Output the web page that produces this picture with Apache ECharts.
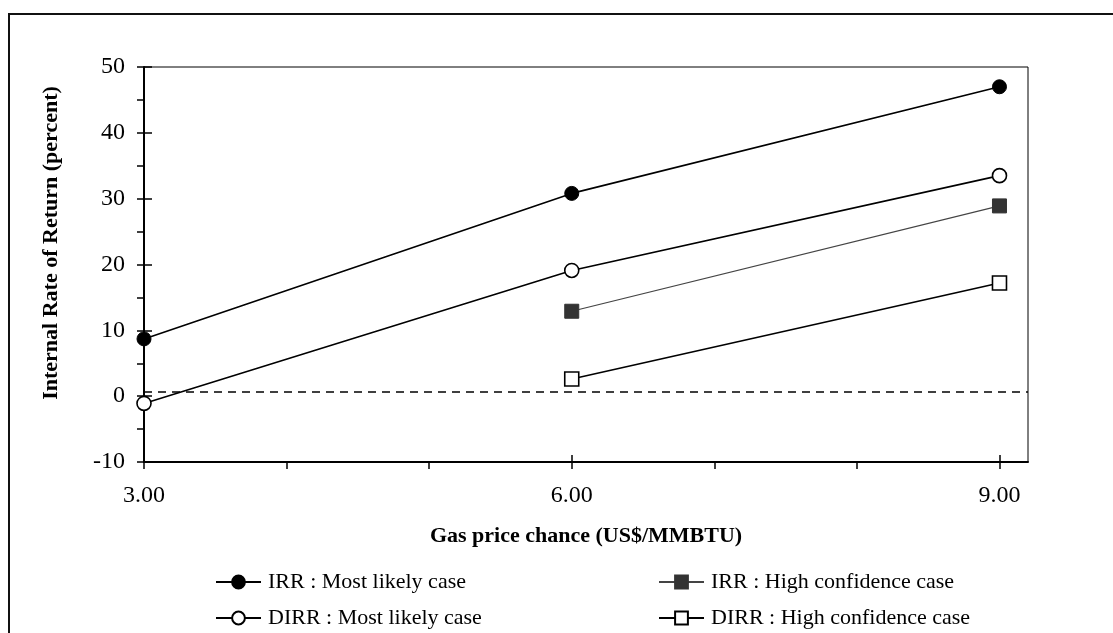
<!DOCTYPE html>
<html>
<head>
<meta charset="utf-8">
<script src="https://cdn.jsdelivr.net/npm/echarts@6/dist/echarts.min.js"></script>
<style>
  html, body { margin: 0; padding: 0; background: #fff; }
  #chart { width: 1113px; height: 633px; }
</style>
</head>
<body>
<div id="chart"></div>
<script>
// Gas price scenarios (US$/MMBTU)
const gasPrice = [3, 6, 9];
const highConfPrice = [6, 9];

// Internal rate of return (percent)
const irrMostLikely = [8.7, 30.8, 47.0];
const dirrMostLikely = [-1.1, 19.1, 33.5];
const irrHighConfidence = [12.9, 28.9];
const dirrHighConfidence = [2.6, 17.2];

// Dashed reference level
const referenceLevel = 0.6;

// Axis ticks and labels
const xTicks = [3, 4, 5, 6, 7, 8, 9];
const xLabels = [3, 6, 9];
const yTicks = [-10, -5, 0, 5, 10, 15, 20, 25, 30, 35, 40, 45, 50];
const yLabels = [-10, 0, 10, 20, 30, 40, 50];

const seriesNames = [
  'IRR : Most likely case',
  'DIRR : Most likely case',
  'IRR : High confidence case',
  'DIRR : High confidence case'
];

const FONT = '"Liberation Serif", "Times New Roman", serif';

function pairs(xs, ys) {
  return xs.map((x, i) => [x, ys[i]]);
}

// one legend entry per slot: two columns, two rows
function legendEntry(name, left, top) {
  return {
    left: left, top: top, padding: 0,
    itemWidth: 45, itemHeight: 16, itemGap: 0,
    textStyle: { fontFamily: FONT, fontSize: 22, color: '#000', padding: [0, 0, 0, 2] },
    data: [name]
  };
}

const chart = echarts.init(document.getElementById('chart'), null, { renderer: 'canvas' });

const hiddenAxisParts = {
  axisLine: { show: false },
  axisLabel: { show: false },
  splitLine: { show: false }
};

chart.setOption({
  backgroundColor: '#fff',
  animation: false,
  grid: {
    left: 144, top: 67, right: 85, bottom: 171,
    show: true, borderColor: '#000', borderWidth: 1, backgroundColor: 'transparent'
  },
  graphic: [
    {
      type: 'rect', silent: true, z: -1,
      shape: { x: 9, y: 14, width: 1120, height: 660 },
      style: { fill: 'none', stroke: '#111', lineWidth: 2 }
    },
    {
      type: 'text', x: 51, y: 243, rotation: Math.PI / 2,
      style: {
        text: 'Internal Rate of Return (percent)',
        font: 'bold 22px ' + FONT, fill: '#000',
        textAlign: 'center', textVerticalAlign: 'middle'
      }
    }
  ],
  xAxis: [
    {
      type: 'value', min: 3, max: 9.2, position: 'bottom',
      name: 'Gas price chance (US$/MMBTU)',
      nameLocation: 'middle', nameGap: 63,
      nameTextStyle: { fontFamily: FONT, fontSize: 22, fontWeight: 'bold', color: '#000' },
      axisLine: { onZero: false, lineStyle: { color: '#000', width: 2 } },
      axisTick: { customValues: xTicks, length: 7, lineStyle: { color: '#000', width: 1.5 } },
      axisLabel: {
        customValues: xLabels, formatter: v => Number(v).toFixed(2),
        fontFamily: FONT, fontSize: 24, color: '#000', margin: 22
      },
      splitLine: { show: false }
    },
    Object.assign({
      type: 'value', min: 3, max: 9.2, position: 'bottom',
      axisTick: { customValues: xLabels, inside: true, length: 7, lineStyle: { color: '#000', width: 1.5 } }
    }, hiddenAxisParts, { axisLine: { show: false, onZero: false } })
  ],
  yAxis: [
    {
      type: 'value', min: -10, max: 50, interval: 5, position: 'left',
      axisLine: { onZero: false, lineStyle: { color: '#000', width: 2 } },
      axisTick: { customValues: yTicks, length: 7, lineStyle: { color: '#000', width: 1.5 } },
      axisLabel: {
        customValues: yLabels,
        fontFamily: FONT, fontSize: 24, color: '#000', margin: 19
      },
      splitLine: { show: false }
    },
    Object.assign({
      type: 'value', min: -10, max: 50, interval: 10, position: 'left',
      axisTick: { customValues: yLabels, inside: true, length: 8, lineStyle: { color: '#000', width: 1.5 } }
    }, hiddenAxisParts, { axisLine: { show: false, onZero: false } })
  ],
  legend: [
    legendEntry(seriesNames[0], 215, 571),
    legendEntry(seriesNames[1], 215, 607),
    legendEntry(seriesNames[2], 658, 571),
    legendEntry(seriesNames[3], 658, 607)
  ],
  series: [
    {
      name: seriesNames[0], type: 'line', data: pairs(gasPrice, irrMostLikely),
      symbol: 'circle', symbolSize: 14,
      lineStyle: { color: '#000', width: 1.6 },
      itemStyle: { color: '#000', borderColor: '#000', borderWidth: 1 },
      z: 5,
      markLine: {
        silent: true, symbol: 'none', label: { show: false },
        lineStyle: { color: '#000', type: [8, 6], width: 1.5 },
        data: [{ yAxis: referenceLevel }]
      }
    },
    {
      name: seriesNames[1], type: 'line', data: pairs(gasPrice, dirrMostLikely),
      symbol: 'circle', symbolSize: 14,
      lineStyle: { color: '#000', width: 1.6 },
      itemStyle: { color: '#fff', borderColor: '#000', borderWidth: 1.6 },
      z: 5
    },
    {
      name: seriesNames[2], type: 'line', data: pairs(highConfPrice, irrHighConfidence),
      symbol: 'rect', symbolSize: 14,
      lineStyle: { color: '#444', width: 1.2 },
      itemStyle: { color: '#333', borderColor: '#333', borderWidth: 1 },
      z: 5
    },
    {
      name: seriesNames[3], type: 'line', data: pairs(highConfPrice, dirrHighConfidence),
      symbol: 'rect', symbolSize: 14,
      lineStyle: { color: '#000', width: 1.6 },
      itemStyle: { color: '#fff', borderColor: '#000', borderWidth: 1.6 },
      z: 5
    }
  ]
});
</script>
</body>
</html>
